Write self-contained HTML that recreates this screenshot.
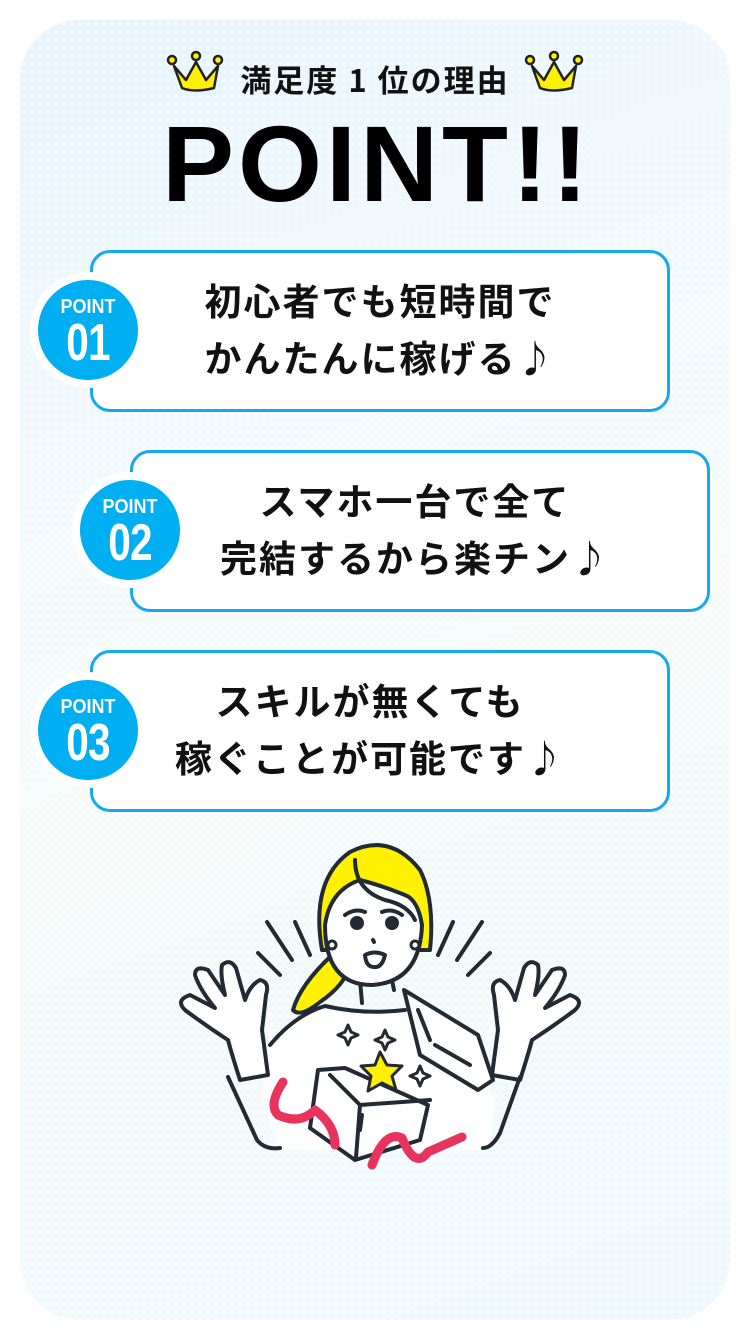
<!DOCTYPE html>
<html><head><meta charset="utf-8"><style>
*{margin:0;padding:0;box-sizing:border-box}
body{width:750px;height:1340px;background:#fff;position:relative;overflow:hidden;font-family:"Liberation Sans","Noto Sans CJK JP",sans-serif}
.panel{position:absolute;left:20px;top:20px;width:710px;height:1300px;border-radius:60px;
background:linear-gradient(160deg,#e6f4fd 0%,#f4fafd 35%,#f6fbfa 55%,#eef9fd 100%)}
.dots{position:absolute;left:20px;top:20px;width:710px;height:1300px;border-radius:60px;
background-image:radial-gradient(circle,rgba(255,255,255,.8) 1.6px,transparent 2.2px);background-size:8px 8px;opacity:.7}
.title{position:absolute;left:0;width:750px;top:57px;text-align:center;font-size:31px;font-weight:bold;color:#111;letter-spacing:2px;font-family:"Noto Sans CJK JP","Liberation Sans",sans-serif;line-height:44px}
.big{position:absolute;left:0;width:750px;top:104px;text-align:center;font-size:108px;font-weight:bold;color:#000;line-height:120px;letter-spacing:4px;padding-left:4px}
.box{position:absolute;width:580px;height:162px;border:3px solid #13a8f0;border-radius:20px;background:#fff}
.txt{position:absolute;width:580px;text-align:center;font-size:37px;font-weight:bold;color:#111;line-height:57px;letter-spacing:2px;font-family:"Noto Sans CJK JP",sans-serif}
.c{position:absolute;width:116px;height:116px;border-radius:50%;background:#00aef2;border:8px solid #fff;color:#fff;text-align:center;font-weight:bold}
.c .a{font-size:20px;margin-top:17px;line-height:20px;transform:scaleX(.9)}
.c .b{font-size:52px;line-height:52px;transform:scaleX(.78);letter-spacing:-1px}
</style></head><body>
<div class="panel"></div><div class="dots"></div>
<svg style="position:absolute;left:0;top:0" width="750" height="120">
<g fill="#fff100" stroke="#222" stroke-width="2.5" stroke-linejoin="round">
<path d="M174 66 L182 88 Q194 93 214 88 L218 66 L206 80 L196 62 L186 80 Z"/>
<circle cx="172" cy="60" r="4"/><circle cx="196" cy="56" r="4"/><circle cx="218" cy="60" r="4"/>
<path d="M532 66 L540 88 Q552 93 572 88 L576 66 L564 80 L554 62 L544 80 Z"/>
<circle cx="530" cy="60" r="4"/><circle cx="554" cy="56" r="4"/><circle cx="578" cy="60" r="4"/>
</g></svg>
<div class="title">満足度 1 位の理由</div>
<div class="big">POINT!!</div>

<div class="box" style="left:90px;top:250px"></div>
<div class="txt" style="left:90px;top:271px">初心者でも短時間で<br>かんたんに稼げる♪</div>
<div class="c" style="left:30px;top:272px"><div class="a">POINT</div><div class="b">01</div></div>

<div class="box" style="left:130px;top:450px"></div>
<div class="txt" style="left:125px;top:471px">スマホ一台で全て<br>完結するから楽チン♪</div>
<div class="c" style="left:72px;top:472px"><div class="a">POINT</div><div class="b">02</div></div>

<div class="box" style="left:90px;top:650px"></div>
<div class="txt" style="left:80px;top:671px">スキルが無くても<br>稼ぐことが可能です♪</div>
<div class="c" style="left:30px;top:672px"><div class="a">POINT</div><div class="b">03</div></div>

<svg style="position:absolute;left:0;top:0" width="750" height="1340" fill="none" stroke="#222a33" stroke-width="4" stroke-linecap="round" stroke-linejoin="round">
<path d="M268 1045 Q300 1010 335 1005 Q370 1015 405 1010 L470 1060 L495 1100 L490 1150 L280 1150 L262 1100 Z" fill="#fff" stroke="none"/>
<path d="M332 955 Q300 985 293 1010 Q300 1018 320 1002 Q345 985 350 965 Z" fill="#fff100"/>
<path d="M270 1045 Q295 1015 325 1006 Q365 1015 405 1010"/>
<path d="M360 980 L362 1003 M392 980 L394 990"/>
<path d="M322 950 Q310 880 350 852 Q390 832 420 870 Q435 900 430 950 Z" fill="#fff100"/>
<path d="M325 925 Q325 985 372 985 Q420 982 422 925 Q418 900 405 895 Q380 885 360 880 Q330 890 325 925 Z" fill="#fff"/>
<path d="M355 860 Q355 890 385 900 Q408 905 415 920"/>
<path d="M345 915 Q355 908 365 912 M382 912 Q392 908 402 915"/>
<circle cx="357" cy="923" r="5" fill="#222a33"/><circle cx="392" cy="923" r="5" fill="#222a33"/>
<path d="M373 940 L374 942"/>
<path d="M365 955 Q375 950 385 955 Q382 968 374 967 Q366 967 365 955 Z" fill="#fff"/>
<circle cx="332" cy="945" r="4" fill="#fff" stroke-width="3"/><circle cx="415" cy="945" r="4" fill="#fff" stroke-width="3"/>
<path d="M267 922 L292 960 M295 922 L310 955 M258 953 L280 975 M482 922 L457 960 M453 922 L438 955 M490 953 L468 975"/>
<path d="M240 1080 Q232 1055 228 1040 Q205 1025 185 1010 Q175 1000 190 995 L215 1008 Q200 990 195 975 Q195 965 208 970 L225 995 Q220 975 222 965 Q230 958 236 968 L245 1000 Q250 985 260 980 Q270 982 266 995 L262 1030 L268 1075 Z" fill="#fff"/>
<path d="M228 1077 L257 1140 Q265 1150 280 1148"/>
<path d="M520 1080 Q528 1055 532 1040 Q555 1025 575 1010 Q585 1000 570 995 L545 1008 Q560 990 565 975 Q565 965 552 970 L535 995 Q540 975 538 965 Q530 958 524 968 L515 1000 Q510 985 500 980 Q490 982 494 995 L498 1030 L492 1075 Z" fill="#fff"/>
<path d="M520 1077 L500 1133 Q492 1148 483 1148"/>
<path d="M404 990 L478 1035 L493 1080 L478 1090 L420 1055 Z" fill="#fff"/>
<path d="M418 1010 L430 1040 M435 1045 L470 1065"/>
<path d="M318 1070 L345 1068 L428 1105 L420 1140 L355 1160 L310 1128 Z" fill="#fff"/>
<path d="M330 1075 L360 1105 L430 1100 M360 1105 L356 1158 M362 1115 L360 1130"/>
<path d="M380 1052 L387 1065 L402 1066 L392 1076 L396 1090 L382 1083 L368 1091 L371 1076 L361 1066 L375 1065 Z" fill="#fff100" stroke-width="3"/>
<path d="M348 1025 l3 7 7 3 -7 3 -3 7 -3 -7 -7 -3 7 -3z M385 1030 l3 7 7 3 -7 3 -3 7 -3 -7 -7 -3 7 -3z M420 1066 l3 7 7 3 -7 3 -3 7 -3 -7 -7 -3 7 -3z" stroke-width="3"/>
<path d="M283 1082 Q268 1105 278 1115 Q300 1125 315 1110 Q335 1125 335 1145 M372 1165 Q385 1130 402 1138 Q415 1170 428 1152 L462 1137" stroke="#e8335f" stroke-width="9"/>
</svg>
</body></html>
